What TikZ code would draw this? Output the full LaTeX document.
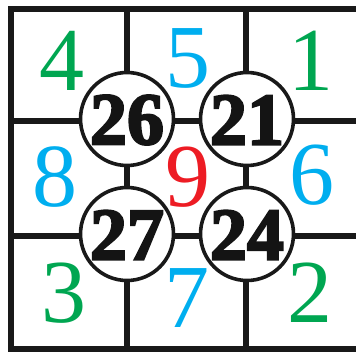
\documentclass[tikz,border=0pt]{standalone}
\usepackage{fontspec}
\setmainfont{Liberation Serif}
\newfontface\heavyfont{Liberation Serif Bold}[RawFeature={embolden=3}]
\definecolor{mgreen}{RGB}{0,166,81}
\definecolor{mcyan}{RGB}{0,174,239}
\definecolor{mred}{RGB}{237,28,36}
\tikzset{
  gridline/.style={line width=5.5pt, line cap=rect, draw=black!90},
  ring/.style={circle, draw=black!90, line width=3.6pt, fill=white, minimum size=93pt, inner sep=0pt},
  digit/.style={inner sep=0pt, font=\fontsize{90}{90}\selectfont},
  cnum/.style={inner sep=0pt, text=black!92, font=\fontsize{74}{74}\heavyfont}
}
\begin{document}
\begin{tikzpicture}[x=1pt,y=-1pt]
\useasboundingbox (0,0) rectangle (356,351);
% grid corners
\coordinate (tl) at (11,9);
\coordinate (tr) at (362,9);
\coordinate (bl) at (11,349);
\coordinate (br) at (362,349);
\coordinate (v1t) at (127,9);
\coordinate (v1b) at (127,349);
\coordinate (v2t) at (246,9);
\coordinate (v2b) at (246,349);
\coordinate (h1l) at (11,121);
\coordinate (h1r) at (362,121);
\coordinate (h2l) at (11,236);
\coordinate (h2r) at (362,236);
\draw[gridline] (tr) -- (tl) -- (bl) -- (br);
\draw[gridline] (v1t) -- (v1b);
\draw[gridline] (v2t) -- (v2b);
\draw[gridline] (h1l) -- (h1r);
\draw[gridline] (h2l) -- (h2r);
% rings with their numbers
\node[ring] (c26) at (127,119) {};
\node[ring] (c21) at (247,119) {};
\node[ring] (c27) at (127,234) {};
\node[ring] (c24) at (247,234) {};
\node[cnum] (t26) at ([yshift=-1pt]c26) {26};
\node[cnum] (t21) at ([yshift=-1pt]c21) {21};
\node[cnum] (t27) at ([yshift=-1pt]c27) {27};
\node[cnum] (t24) at ([yshift=-1pt]c24) {24};
% coloured digits
\node[digit, text=mgreen] (d4) at (62,61) {4};
\node[digit, text=mcyan] (d5) at (188,58) {5};
\node[digit, text=mgreen] (d1) at (311,61) {1};
\node[digit, text=mcyan] (d8) at (55,177) {8};
\node[digit, text=mred] (d9) at (188,177) {9};
\node[digit, text=mcyan] (d6) at (312,175) {6};
\node[digit, text=mgreen] (d3) at (64,293) {3};
\node[digit, text=mcyan] (d7) at (187,298) {7};
\node[digit, text=mgreen] (d2) at (310,293) {2};
\end{tikzpicture}
\end{document}
